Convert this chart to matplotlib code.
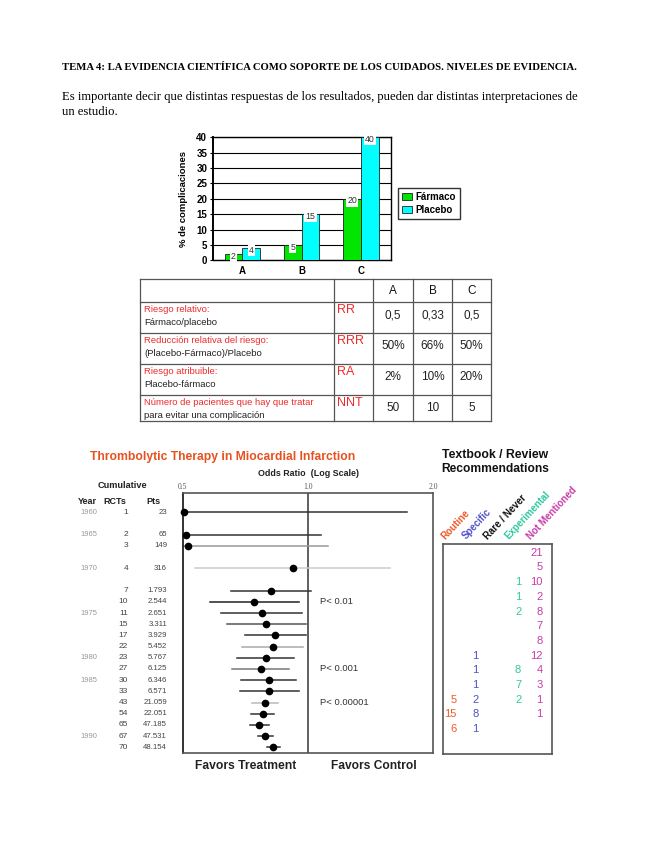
import matplotlib
matplotlib.use('Agg')
import matplotlib.pyplot as plt
import matplotlib.transforms as mtransforms
from matplotlib.ticker import NullLocator
import numpy as np

W, H = 655, 848
DPI = 100

# ------------------------------------------------------------------ data
heading = "TEMA 4: LA EVIDENCIA CIENTÍFICA COMO SOPORTE DE LOS CUIDADOS. NIVELES DE EVIDENCIA."
intro_lines = ["Es importante decir que distintas respuestas de los resultados, pueden dar distintas interpretaciones de",
               "un estudio."]

bar_groups = ["A", "B", "C"]
farmaco = [2, 5, 20]
placebo = [4, 15, 40]
bar_yticks = [0, 5, 10, 15, 20, 25, 30, 35, 40]

table_header = ["A", "B", "C"]
measure_names = ["Riesgo relativo:", "Reducción relativa del riesgo:", "Riesgo atribuible:",
                 "Número de pacientes que hay que tratar"]
measure_formulas = ["Fármaco/placebo", "(Placebo-Fármaco)/Placebo", "Placebo-fármaco",
                    "para evitar una complicación"]
measure_abbr = ["RR", "RRR", "RA", "NNT"]
measure_values = [["0,5", "0,33", "0,5"],
                  ["50%", "66%", "50%"],
                  ["2%", "10%", "20%"],
                  ["50", "10", "5"]]

forest_title = "Thrombolytic Therapy in Miocardial Infarction"
forest_years = ["1960", "1965", "", "1970", "", "", "1975", "", "", "", "1980", "", "1985",
                "", "", "", "", "1990", ""]
forest_rcts = [1, 2, 3, 4, 7, 10, 11, 15, 17, 22, 23, 27, 30, 33, 43, 54, 65, 67, 70]
forest_pts = [23, 65, 149, 316, 1793, 2544, 2651, 3311, 3929, 5452, 5767, 6125, 6346, 6571,
              21059, 22051, 47185, 47531, 48154]
forest_rows = [0, 2, 3, 5, 7, 8, 9, 10, 11, 12, 13, 14, 15, 16, 17, 18, 19, 20, 21]
odds_ratio = [0.505, 0.508, 0.515, 0.918, 0.814, 0.743, 0.775, 0.793, 0.835, 0.823, 0.792,
              0.771, 0.804, 0.804, 0.789, 0.779, 0.764, 0.789, 0.826]
ci_low = [0.2, 0.2, 0.2, 0.534, 0.654, 0.582, 0.619, 0.638, 0.705, 0.695, 0.677, 0.658,
          0.692, 0.685, 0.734, 0.731, 0.727, 0.758, 0.797]
ci_high = [1.726, 1.075, 1.115, 1.576, 1.014, 0.952, 0.969, 0.987, 0.987, 0.973, 0.924,
           0.901, 0.935, 0.950, 0.846, 0.829, 0.807, 0.826, 0.856]
p_values = {10: "P< 0.01", 27: "P< 0.001", 43: "P< 0.00001"}
forest_ticks = [0.5, 1.0, 2.0]
forest_ticklabels = ["0.5", "1.0", "2.0"]

rec_categories = ["Routine", "Specific", "Rare / Never", "Experimental", "Not Mentioned"]
rec_routine = [None] * 10 + [5, 15, 6]
rec_specific = [None] * 7 + [1, 1, 1, 2, 8, 1]
rec_rare = [None] * 13
rec_experimental = [None, None, 1, 1, 2, None, None, None, 8, 7, 2, None, None]
rec_not_mentioned = [21, 5, 10, 2, 8, 7, 8, 12, 4, 3, 1, 1, None]

# ------------------------------------------------------------------ styles
SANS = 'Liberation Sans'
SERIF = 'Liberation Serif'
GREEN = '#00E600'
CYAN = '#00FFFF'
RED = '#EE2B2B'
TITLE_ORANGE = '#E8501E'
REC_COLORS = ['#F05A28', '#5050C8', '#111111', '#30C8A0', '#C83CA8']
ci_colors = ['#333333', '#333333', '#999999', '#cccccc', '#333333', '#222222', '#333333',
             '#555555', '#333333', '#aaaaaa', '#333333', '#777777', '#333333', '#333333',
             '#bbbbbb', '#333333', '#333333', '#333333', '#333333']

fig = plt.figure(figsize=(W / DPI, H / DPI), dpi=DPI)
fig.patch.set_facecolor('white')
ax0 = fig.add_axes([0, 0, 1, 1])
ax0.set_xlim(0, W)
ax0.set_ylim(H, 0)
ax0.axis('off')
renderer = fig.canvas.get_renderer()


def rect(l, t, r, b):
    return [l / W, 1 - b / H, (r - l) / W, (b - t) / H]


def fit(t, width):
    bb = t.get_window_extent(renderer)
    t.set_fontsize(t.get_fontsize() * width / bb.width)
    return t.get_fontsize()


# ------------------------------------------------------------------ heading text
t = ax0.text(62, 68, heading, fontfamily=SERIF, fontweight='bold', fontsize=9, va='center')
fit(t, 515)
t1 = ax0.text(62, 97, intro_lines[0], fontfamily=SERIF, fontsize=9, va='center')
fs = fit(t1, 515)
ax0.text(62, 112, intro_lines[1], fontfamily=SERIF, fontsize=fs, va='center')

# ------------------------------------------------------------------ bar chart
axB = fig.add_axes(rect(212.7, 137.3, 390.5, 260.3))
xb = np.arange(len(bar_groups))
axB.bar(xb - 0.15, farmaco, 0.3, color=GREEN, edgecolor='#222222', lw=0.6, label='Fármaco', zorder=3)
axB.bar(xb + 0.15, placebo, 0.3, color=CYAN, edgecolor='#222222', lw=0.6, label='Placebo', zorder=3)
axB.set_xlim(-0.5, 2.5)
axB.set_ylim(0, 40)
axB.set_yticks(bar_yticks)
axB.set_xticks(xb)
axB.set_xticklabels(bar_groups)
axB.yaxis.grid(True, color='black', lw=0.8, zorder=0)
axB.set_axisbelow(True)
for s in axB.spines.values():
    s.set_color('black')
    s.set_linewidth(1.0)
axB.spines['left'].set_linewidth(1.4)
axB.tick_params(axis='y', length=2, pad=2, labelsize=7)
axB.tick_params(axis='x', length=0, pad=4, labelsize=7)
for lab in axB.get_yticklabels() + axB.get_xticklabels():
    lab.set_fontweight('bold')
    lab.set_fontfamily(SANS)
axB.set_ylabel("% de complicaciones", fontfamily=SANS, fontweight='bold', fontsize=6.8)
axB.yaxis.set_label_coords(-0.14, 0.5)
for vals, off in ((farmaco, -0.15), (placebo, 0.15)):
    for xi, v in zip(xb, vals):
        axB.annotate(str(v), (xi + off, v), xytext=(0, -1.5), textcoords='offset points',
                     ha='center', va='center', fontsize=6.3, fontfamily=SANS, color='#333333',
                     bbox=dict(fc='white', ec='none', pad=0.8), zorder=5)
fig.legend(loc='upper left', bbox_to_anchor=(398 / W, 1 - 188 / H), frameon=True,
           fancybox=False, edgecolor='black', borderpad=0.4, handlelength=1.0,
           handleheight=0.8, labelspacing=0.3, handletextpad=0.4, borderaxespad=0,
           prop={'family': SANS, 'weight': 'bold', 'size': 7})

# ------------------------------------------------------------------ table
col_edges = [140, 334, 373, 413, 452, 491]
row_edges = [279, 302, 333, 364, 395, 421]
for x in col_edges:
    ax0.plot([x, x], [row_edges[0], row_edges[-1]], color='#555555', lw=0.9)
for y in row_edges:
    ax0.plot([col_edges[0], col_edges[-1]], [y, y], color='#555555', lw=0.9)
for j, h in enumerate(table_header):
    cx = (col_edges[j + 2] + col_edges[j + 3]) / 2
    ax0.text(cx, (row_edges[0] + row_edges[1]) / 2 + 0.5, h, ha='center', va='center',
             fontfamily=SANS, fontsize=8.5, color='#111111')
for i in range(len(measure_names)):
    top = row_edges[i + 1]
    ax0.text(144, top + 7.7, measure_names[i], fontfamily=SANS, fontsize=6.8, color=RED, va='center')
    ax0.text(144, top + 20.3, measure_formulas[i], fontfamily=SANS, fontsize=6.8, color='#222222',
             va='center')
    ax0.text(337, top + 8, measure_abbr[i], fontfamily=SANS, fontsize=9, color=RED, va='center')
    for j, v in enumerate(measure_values[i]):
        cx = (col_edges[j + 2] + col_edges[j + 3]) / 2
        ax0.text(cx, top + 13, v, ha='center', va='center', fontfamily=SANS, fontsize=8.5,
                 color='#222222')

# ------------------------------------------------------------------ forest plot
t = ax0.text(90, 457, forest_title, fontfamily=SANS, fontweight='bold', fontsize=9,
             color=TITLE_ORANGE, va='center')
fit(t, 265)
t = ax0.text(258, 474, "Odds Ratio  (Log Scale)", fontfamily=SANS, fontweight='bold',
             fontsize=6, va='center', color='#222222')
fit(t, 102)
t = ax0.text(98, 485, "Cumulative", fontfamily=SANS, fontweight='bold', fontsize=6,
             va='center', color='#222222')
fit(t, 50)
for label, x in (("Year", 78), ("RCTs", 103), ("Pts", 146)):
    ax0.text(x, 502, label, fontfamily=SANS, fontweight='bold', fontsize=6.5, va='center',
             color='#222222')

axF = fig.add_axes(rect(182.7, 493.3, 433.3, 753.3))
axF.set_xscale('log')
axF.set_xlim(0.5, 2.0)
axF.set_ylim(21.54, -1.70)
axF.set_xticks(forest_ticks)
axF.set_xticklabels(forest_ticklabels)
axF.xaxis.set_minor_locator(NullLocator())
axF.xaxis.tick_top()
axF.tick_params(axis='x', length=0, pad=2, labelsize=5.5, labelcolor='#555555')
for lab in axF.get_xticklabels():
    lab.set_fontfamily(SERIF)
axF.set_yticks([])
for s in axF.spines.values():
    s.set_color('#555555')
    s.set_linewidth(1.2)
axF.spines['left'].set_color('#111111')
axF.axvline(1.0, color='#444444', lw=1.2, zorder=1)
for r, orv, lo, hi, c in zip(forest_rows, odds_ratio, ci_low, ci_high, ci_colors):
    axF.plot([lo, hi], [r, r], color=c, lw=1.1, zorder=2)
    axF.plot([orv], [r], 'o', color='black', ms=4.5, zorder=3, clip_on=False)

trans = mtransforms.blended_transform_factory(ax0.transData, axF.transData)
for r, yr, n, p in zip(forest_rows, forest_years, forest_rcts, forest_pts):
    if yr:
        ax0.text(80, r, yr, transform=trans, fontfamily=SANS, fontsize=5.5, color='#999999',
                 va='center', ha='left')
    ax0.text(128, r, str(n), transform=trans, fontfamily=SANS, fontsize=6, color='#444444',
             va='center', ha='right')
    ax0.text(167, r, f"{p:,}".replace(",", "."), transform=trans, fontfamily=SANS,
             fontsize=5.6, color='#444444', va='center', ha='right')
for n, txt in p_values.items():
    r = forest_rows[forest_rcts.index(n)]
    axF.text(1.07, r, txt, fontfamily=SANS, fontsize=6.8, color='#333333', va='center', ha='left')

t = ax0.text(195, 766, "Favors Treatment", fontfamily=SANS, fontweight='bold', fontsize=8,
             va='center', color='#222222')
fit(t, 102)
t = ax0.text(331, 766, "Favors Control", fontfamily=SANS, fontweight='bold', fontsize=8,
             va='center', color='#222222')
fit(t, 86)

# ------------------------------------------------------------------ recommendations
t = ax0.text(495, 455, "Textbook / Review", fontfamily=SANS, fontweight='bold', fontsize=8,
             va='center', ha='center', color='#111111')
fit(t, 106)
t = ax0.text(495, 468.5, "Recommendations", fontfamily=SANS, fontweight='bold', fontsize=8,
             va='center', ha='center', color='#111111')
fit(t, 108)

axR = fig.add_axes(rect(442.7, 544.3, 551.7, 754))
axR.set_xlim(-0.657, 4.42)
axR.set_ylim(13.69, -0.571)
axR.set_xticks([])
axR.set_yticks([])
for s in axR.spines.values():
    s.set_color('#555555')
    s.set_linewidth(1.2)
rec_series = [rec_routine, rec_specific, rec_rare, rec_experimental, rec_not_mentioned]
for i, (series, col) in enumerate(zip(rec_series, REC_COLORS)):
    for r, v in enumerate(series):
        if v is not None:
            axR.text(i, r, str(v), ha='right', va='center', color=col, fontsize=8,
                     fontfamily=SANS)
    axR.text(i - 0.55, -0.86, rec_categories[i], rotation=47, rotation_mode='anchor',
             ha='left', va='baseline', color=col, fontsize=7, fontweight='bold',
             fontfamily=SANS, clip_on=False)

fig.savefig('out.png', dpi=DPI, facecolor='white')
